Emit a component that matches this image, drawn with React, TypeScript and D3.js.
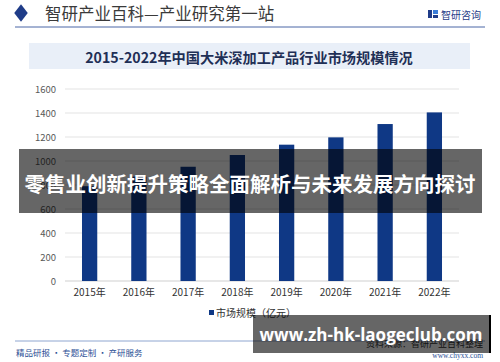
import React, { useEffect, useRef } from 'react';
import * as d3 from 'd3';

const years = ['2015年', '2016年', '2017年', '2018年', '2019年', '2020年', '2021年', '2022年'];
const marketSize = [790, 870, 952, 1050, 1136, 1197, 1308, 1405];
const yTicks = [0, 200, 400, 600, 800, 1000, 1200, 1400, 1600];

const FONT = '"Noto Sans CJK SC", "Noto Sans", sans-serif';
const W = 500;
const H = 362;

const App: React.FC = () => {
  const svgRef = useRef<SVGSVGElement>(null);

  useEffect(() => {
    if (!svgRef.current) return;
    const svg = d3.select(svgRef.current);
    svg.selectAll('*').remove();

    svg.append('rect').attr('width', W).attr('height', H).attr('fill', '#fff');

    // header
    svg.append('path')
      .attr('d', d3.symbol().type(d3.symbolDiamond).size(120)())
      .attr('transform', 'translate(21,13) scale(1.15,0.85)')
      .attr('fill', '#1f3c88');
    svg.append('text')
      .attr('x', 45).attr('y', 19.5)
      .attr('font-family', FONT).attr('font-size', 16.5)
      .attr('fill', '#3a3a3a')
      .text('智研产业百科—产业研究第一站');
    // logo
    const logo = svg.append('g').attr('transform', 'translate(428,10)');
    logo.append('rect').attr('x', 0).attr('y', 0).attr('width', 4).attr('height', 8).attr('fill', '#1f3c88');
    logo.append('rect').attr('x', 5).attr('y', 0).attr('width', 5).attr('height', 4).attr('fill', '#3b7dd8');
    logo.append('rect').attr('x', 5).attr('y', 5).attr('width', 5).attr('height', 3).attr('fill', '#1f3c88');
    svg.append('text')
      .attr('x', 441).attr('y', 19)
      .attr('font-family', FONT).attr('font-size', 10)
      .attr('fill', '#1f3c88')
      .text('智研咨询');
    svg.append('line')
      .attr('x1', 15).attr('x2', 485).attr('y1', 27).attr('y2', 27)
      .attr('stroke', '#4a66a6').attr('stroke-width', 1);

    // title box
    svg.append('rect')
      .attr('x', 29).attr('y', 43).attr('width', 441).attr('height', 26)
      .attr('fill', '#e9eff8');
    svg.append('text')
      .attr('x', 249).attr('y', 63)
      .attr('text-anchor', 'middle')
      .attr('font-family', FONT).attr('font-size', 14.2).attr('font-weight', 'bold')
      .attr('fill', '#1f2f56')
      .text('2015-2022年中国大米深加工产品行业市场规模情况');

    // chart
    const x = d3.scaleBand<string>().domain(years).range([65, 459]).paddingInner(0.69).paddingOuter(0.345);
    const y = d3.scaleLinear().domain([0, 1600]).range([281, 89]);

    const grid = svg.append('g');
    grid.selectAll('line')
      .data(yTicks)
      .enter()
      .append('line')
      .attr('x1', 65).attr('x2', 459)
      .attr('y1', d => y(d)).attr('y2', d => y(d))
      .attr('stroke', d => (d === 0 ? '#cfcfcf' : '#e3e3e3'))
      .attr('stroke-width', 1);

    svg.append('g').selectAll('text')
      .data(yTicks)
      .enter()
      .append('text')
      .attr('x', 56).attr('y', d => y(d) + 3.5)
      .attr('text-anchor', 'end')
      .attr('font-family', FONT).attr('font-size', 9.5)
      .attr('fill', '#595959')
      .text(d => String(d));

    svg.append('g').selectAll('rect')
      .data(marketSize)
      .enter()
      .append('rect')
      .attr('x', (d, i) => x(years[i]) as number)
      .attr('width', x.bandwidth())
      .attr('y', d => y(d))
      .attr('height', d => y(0) - y(d))
      .attr('fill', '#0f3885');

    svg.append('g').selectAll('text')
      .data(years)
      .enter()
      .append('text')
      .attr('x', d => (x(d) as number) + x.bandwidth() / 2)
      .attr('y', 296)
      .attr('text-anchor', 'middle')
      .attr('font-family', FONT).attr('font-size', 10)
      .attr('fill', '#333')
      .text(d => d);

    // legend
    svg.append('rect').attr('x', 209).attr('y', 310).attr('width', 5).attr('height', 5).attr('fill', '#0f3885');
    svg.append('text')
      .attr('x', 216).attr('y', 317)
      .attr('font-family', FONT).attr('font-size', 10)
      .attr('fill', '#333')
      .text('市场规模（亿元）');

    // footer
    svg.append('line')
      .attr('x1', 15).attr('x2', 485).attr('y1', 341).attr('y2', 341)
      .attr('stroke', '#8fa6d0').attr('stroke-width', 1);
    svg.append('text')
      .attr('x', 16).attr('y', 356)
      .attr('font-family', FONT).attr('font-size', 8.5)
      .attr('fill', '#2c4f95')
      .text('精品研报 · 专题定制 · 产研服务');
    svg.append('text')
      .attr('x', 483).attr('y', 347)
      .attr('text-anchor', 'end')
      .attr('font-family', FONT).attr('font-size', 9)
      .attr('fill', '#333')
      .text('资料来源：智研产业百科整理');
    svg.append('text')
      .attr('x', 483).attr('y', 358)
      .attr('text-anchor', 'end')
      .attr('font-family', '"Liberation Serif", serif').attr('font-size', 7.5)
      .attr('fill', '#2c4f95')
      .text('www.chyxx.com');

    // overlay banners
    svg.append('rect')
      .attr('x', 19).attr('y', 149).attr('width', 463).attr('height', 64)
      .attr('fill', 'rgba(0,0,0,0.6)');
    svg.append('text')
      .attr('x', 250).attr('y', 192)
      .attr('text-anchor', 'middle')
      .attr('font-family', FONT).attr('font-size', 20.5).attr('font-weight', 'bold')
      .attr('fill', '#fff')
      .text('零售业创新提升策略全面解析与未来发展方向探讨');

    svg.append('rect')
      .attr('x', 253).attr('y', 315).attr('width', 237).attr('height', 38)
      .attr('fill', 'rgba(0,0,0,0.6)');
    svg.append('rect')
      .attr('x', 489).attr('y', 315).attr('width', 2).attr('height', 38)
      .attr('fill', '#000');
    svg.append('text')
      .attr('x', 371).attr('y', 341)
      .attr('text-anchor', 'middle')
      .attr('font-family', '"Open Sans", "DejaVu Sans", sans-serif').attr('font-size', 17).attr('font-weight', 'bold')
      .attr('fill', '#fff')
      .text('www.zh-hk-laogeclub.com');
  }, []);

  return (
    <div style={{ position: 'absolute', left: 0, top: 0, width: W, height: H }}>
      <svg ref={svgRef} width={W} height={H} style={{ display: 'block' }} />
    </div>
  );
};

export default App;
